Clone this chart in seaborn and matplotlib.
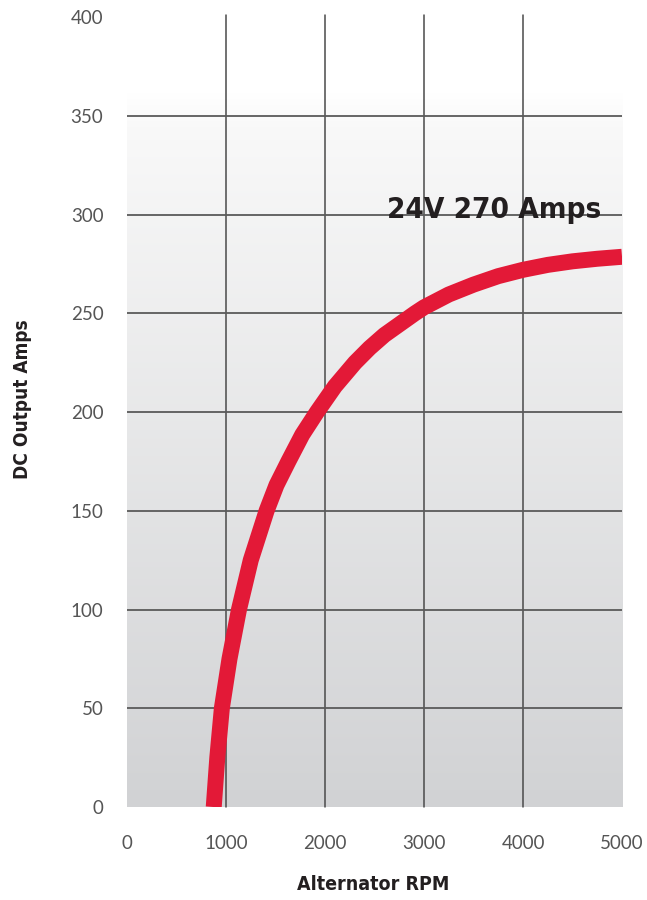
import numpy as np
import pandas as pd
import seaborn as sns
import matplotlib.pyplot as plt
from matplotlib import font_manager as fm

# values
rpm = [876, 912, 958, 1035, 1131, 1250, 1410, 1510, 1630, 1770, 1919, 2100, 2303, 2450, 2600,
       2909, 3000, 3250, 3500, 3750, 4000, 4250, 4500, 4750, 5000]
amps = [0, 25, 50, 75, 100, 125, 150, 163, 175, 188.5, 200, 213, 225, 232.4, 239,
        250, 253, 259.5, 264.5, 268.8, 272, 274.5, 276.3, 277.6, 278.6]
x_ticks = [0, 1000, 2000, 3000, 4000, 5000]
y_ticks = [0, 50, 100, 150, 200, 250, 300, 350, 400]
label = "24V 270 Amps"

df = pd.DataFrame({"rpm": rpm, "amps": amps})

sns.set_theme(style="white")
plt.rcParams["font.family"] = ["Lato", "DejaVu Sans"]

# look for a condensed bold face, else DejaVu Sans bold
def is_bold(w):
    return w in ("bold", "heavy", "black", "extra bold", "semibold") or (isinstance(w, int) and w >= 600)

narrow = [f for f in fm.fontManager.ttflist
          if ("Condensed" in f.name or "Narrow" in f.name or "condensed" in str(f.stretch)
              or "Condensed" in f.fname or "Narrow" in f.fname) and is_bold(f.weight)]
if narrow:
    cond_fp = fm.FontProperties(fname=narrow[0].fname)
else:
    cond_fp = fm.FontProperties(family="DejaVu Sans", weight="bold")

fig = plt.figure(figsize=(6.47, 9.0), dpi=100)
ax = fig.add_axes([0.1963, 0.1033, 0.7651, 0.8778])
ax.set_facecolor("none")

# grey gradient background (fades to white at the top)
grad = np.linspace(0, 1, 256)
cols = np.array([[0.82, 0.824, 0.832], [0.975, 0.975, 0.975], [1.0, 1.0, 1.0]])
stops = np.array([0.0, 0.95, 1.0])
img = np.stack([np.interp(grad, stops, cols[:, c]) for c in range(3)], axis=1).reshape(-1, 1, 3)
ax.imshow(img, extent=[0, 5000, 0, 362], origin="lower", aspect="auto", zorder=0)

# grid
for x in x_ticks[1:-1]:
    ax.axvline(x, ymin=0, ymax=1.003, color="#4a4a4a", lw=1.1, zorder=1, clip_on=False)
for y in y_ticks[1:-1]:
    ax.axhline(y, color="#5a5a5a", lw=1.3, zorder=1)

sns.lineplot(data=df, x="rpm", y="amps", ax=ax, color="#e31937", lw=11.5,
             solid_capstyle="butt", solid_joinstyle="round", zorder=3)

ax.set_xlim(0, 5000)
ax.set_ylim(0, 400)
ax.set_xticks(x_ticks)
ax.set_yticks(y_ticks)
ax.tick_params(axis="both", length=0, labelsize=13.5, labelcolor="#555555")
ax.tick_params(axis="x", pad=20)
ax.tick_params(axis="y", pad=17)
sns.despine(ax=ax, left=True, bottom=True)

txt = ax.text(2626, 298, label, fontproperties=cond_fp, fontsize=29, color="#231f20",
              ha="left", zorder=4)
xl = ax.set_xlabel("Alternator RPM", fontproperties=cond_fp, fontsize=17, color="#231f20")
yl = ax.set_ylabel("DC Output Amps", fontproperties=cond_fp, fontsize=17, color="#231f20")
ax.xaxis.set_label_coords(0.497, -0.086)
ax.yaxis.set_label_coords(-0.192, 0.516)

# fit the label texts to about the sizes seen in the reference
fig.canvas.draw()
r = fig.canvas.get_renderer()
for t, size_px, horiz in [(txt, 214, True), (xl, 152, True), (yl, 160, False)]:
    bb = t.get_window_extent(r)
    cur = bb.width if horiz else bb.height
    t.set_fontsize(t.get_fontsize() * size_px / cur)

fig.savefig("out.png", dpi=100)
